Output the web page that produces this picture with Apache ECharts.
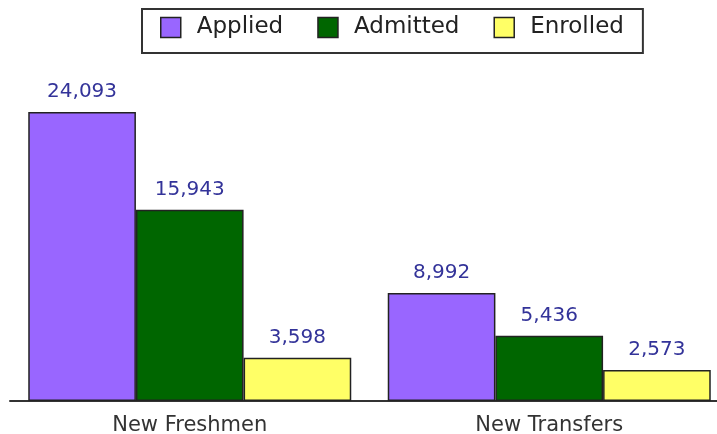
<!DOCTYPE html>
<html>
<head>
<meta charset="utf-8">
<script src="https://cdn.jsdelivr.net/npm/echarts@6/dist/echarts.min.js"></script>
<style>html,body{margin:0;padding:0;background:#fff}#c{width:717px;height:434px}</style>
</head>
<body>
<div id="c"></div>
<script>
const categories = ['New Freshmen', 'New Transfers'];
const seriesNames = ['Applied', 'Admitted', 'Enrolled'];
const applied = [24093, 8992];
const admitted = [15943, 5436];
const enrolled = [3598, 2573];
const colors = ['#9966ff', '#006600', '#ffff66'];

const values = [applied, admitted, enrolled];
const chart = echarts.init(document.getElementById('c'));
const FONT = 'DejaVu Sans';
chart.setOption({
  animation: false,
  legend: {
    left: 142, top: 9,
    padding: [7, 19, 14, 18],
    borderColor: '#333', borderWidth: 2,
    itemWidth: 20, itemHeight: 20, itemGap: 34,
    icon: 'rect',
    itemStyle: { borderColor: '#222', borderWidth: 1.5 },
    textStyle: { fontFamily: FONT, fontSize: 23, color: '#222', padding: [0, 0, 0, 11] },
    data: seriesNames
  },
  grid: { left: 10, width: 719, top: 41, height: 360, outerBoundsMode: 'none', containLabel: false },
  xAxis: {
    type: 'category', data: categories,
    axisLine: { lineStyle: { color: '#333', width: 2 } },
    axisTick: { show: false },
    axisLabel: { fontFamily: FONT, fontSize: 21, color: '#333', margin: 14 }
  },
  yAxis: { type: 'value', min: 0, max: 30000, show: false, splitLine: { show: false } },
  series: seriesNames.map((n, i) => ({
    name: n, type: 'bar', data: values[i],
    barGap: '0%', barCategoryGap: '10.15%',
    itemStyle: { color: colors[i], borderColor: '#222', borderWidth: 1.5 },
    label: {
      show: true, position: 'top', distance: 10,
      fontFamily: FONT, fontSize: 20, color: '#333399',
      formatter: p => p.value.toLocaleString('en-US')
    }
  }))
});
</script>
</body>
</html>
